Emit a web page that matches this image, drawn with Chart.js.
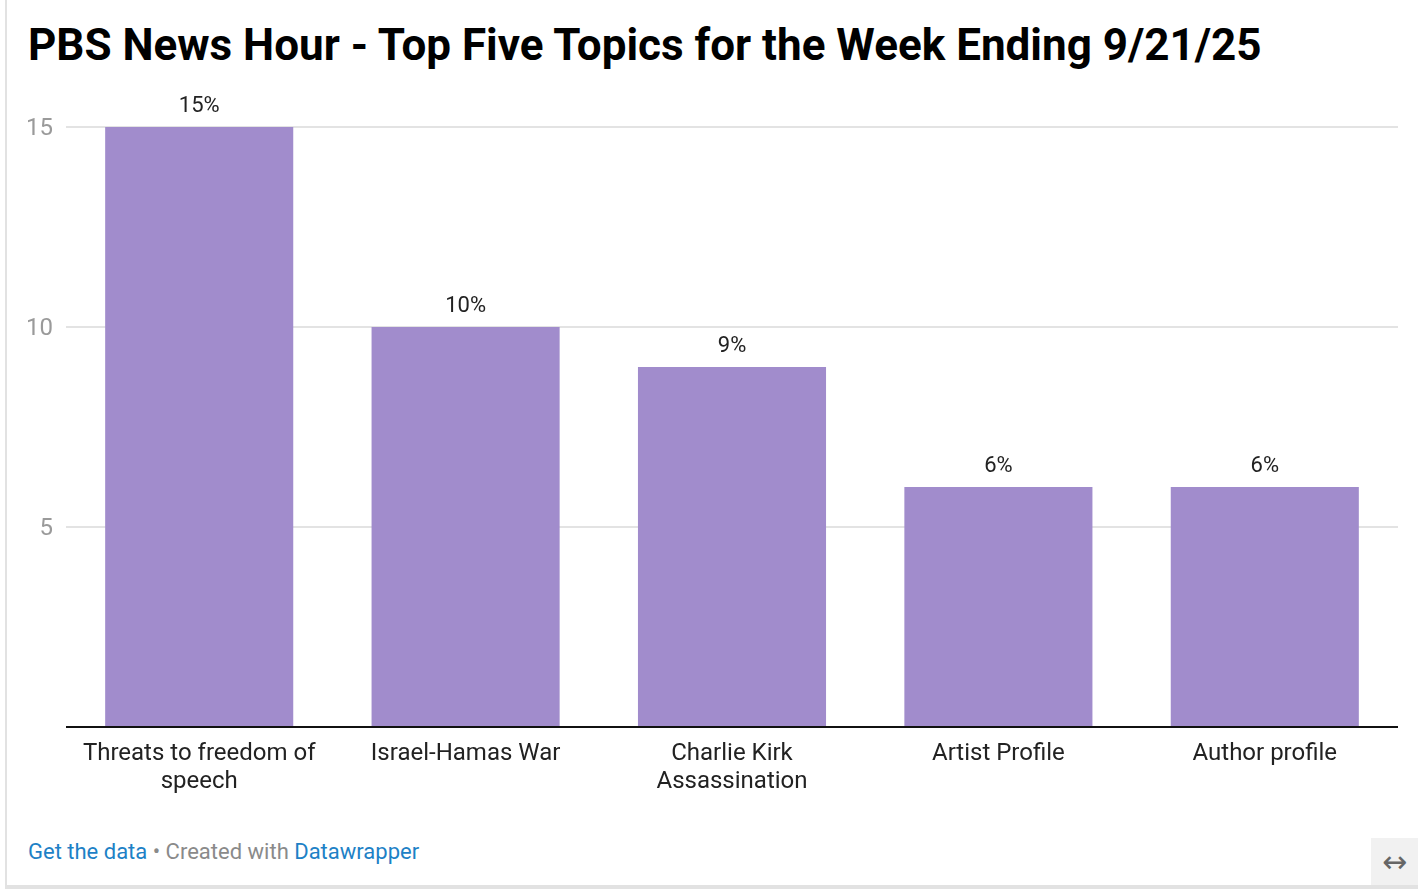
<!DOCTYPE html>
<html>
<head>
<meta charset="utf-8">
<script src="https://cdn.jsdelivr.net/npm/chart.js@4"></script>
<style>
  html, body { margin: 0; padding: 0; background: #fff; }
  body { width: 1418px; height: 892px; position: relative; overflow: hidden; font-family: Roboto, "Noto Sans", sans-serif; }
  #frame { position: absolute; left: 5px; top: 0; width: 1413px; height: 885px; border-left: 2px solid #e2e2e2; border-bottom: 4px solid #e2e2e2; }
  #title { position: absolute; left: 28px; top: 19px; margin: 0; font-size: 44px; line-height: 52px; font-weight: 700; color: #000; white-space: nowrap; }
  #wrap { position: absolute; left: 0; top: 80px; width: 1418px; height: 730px; }
  #footer { position: absolute; left: 28px; top: 838px; font-size: 22px; line-height: 28px; color: #8a8a8a; white-space: nowrap; }
  #footer a { color: #1d81c6; text-decoration: none; }
  #expand { position: absolute; left: 1371px; top: 838px; width: 47px; height: 47px; background: #f1f1f1; color: #666; font-family: "DejaVu Sans", sans-serif; font-size: 30px; line-height: 47px; text-align: center; }
</style>
</head>
<body>
<div id="frame"></div>
<h1 id="title">PBS News Hour - Top Five Topics for the Week Ending 9/21/25</h1>
<div id="wrap"><canvas id="chart"></canvas></div>
<div id="footer"><a>Get the data</a> • Created with <a>Datawrapper</a></div>
<div id="expand">&#8596;</div>
<script>
// topics and their share of coverage (%)
const topics = [
  ["Threats to freedom of", "speech"],
  "Israel-Hamas War",
  ["Charlie Kirk", "Assassination"],
  "Artist Profile",
  "Author profile"
];
const shares = [15, 10, 9, 6, 6];
const yTicks = [5, 10, 15];

// draws the "15%" labels above each bar
const valueLabels = {
  id: "valueLabels",
  afterDatasetsDraw(chart) {
    const ctx = chart.ctx;
    const meta = chart.getDatasetMeta(0);
    ctx.save();
    ctx.font = "22px Roboto";
    ctx.fillStyle = "#222";
    ctx.textAlign = "center";
    ctx.textBaseline = "alphabetic";
    meta.data.forEach((bar, i) => {
      ctx.fillText(shares[i] + "%", bar.x, bar.y - 15);
    });
    ctx.restore();
  }
};

const ctx = document.getElementById("chart").getContext("2d");
new Chart(ctx, {
  type: "bar",
  data: {
    labels: topics,
    datasets: [{
      data: shares,
      backgroundColor: "#a18ccc",
      borderWidth: 0,
      barPercentage: 0.706,
      categoryPercentage: 1
    }]
  },
  options: {
    responsive: true,
    maintainAspectRatio: false,
    animation: false,
    layout: { padding: { top: 47, right: 20, bottom: 0, left: 0 } },
    plugins: {
      legend: { display: false },
      tooltip: { enabled: false }
    },
    scales: {
      x: {
        grid: { display: false },
        border: { display: false },
        ticks: {
          color: "#222",
          font: { family: "Roboto", size: 24, lineHeight: 1.17 },
          padding: 5,
          maxRotation: 0,
          autoSkip: false
        },
        afterFit(scale) { scale.height = 83; }
      },
      y: {
        min: 0,
        max: 15,
        afterBuildTicks(scale) {
          scale.ticks = [0].concat(yTicks).map(v => ({ value: v }));
        },
        grid: {
          drawTicks: false,
          color: c => c.tick.value === 0 ? "#111" : "#e3e3e3",
          lineWidth: 2
        },
        border: { display: false },
        ticks: {
          color: "#9a9a9a",
          font: { family: "Roboto", size: 24 },
          padding: 13,
          labelOffset: 2,
          callback: v => v === 0 ? "" : v
        },
        afterFit(scale) { scale.width = 66; }
      }
    }
  },
  plugins: [valueLabels]
});
</script>
</body>
</html>
